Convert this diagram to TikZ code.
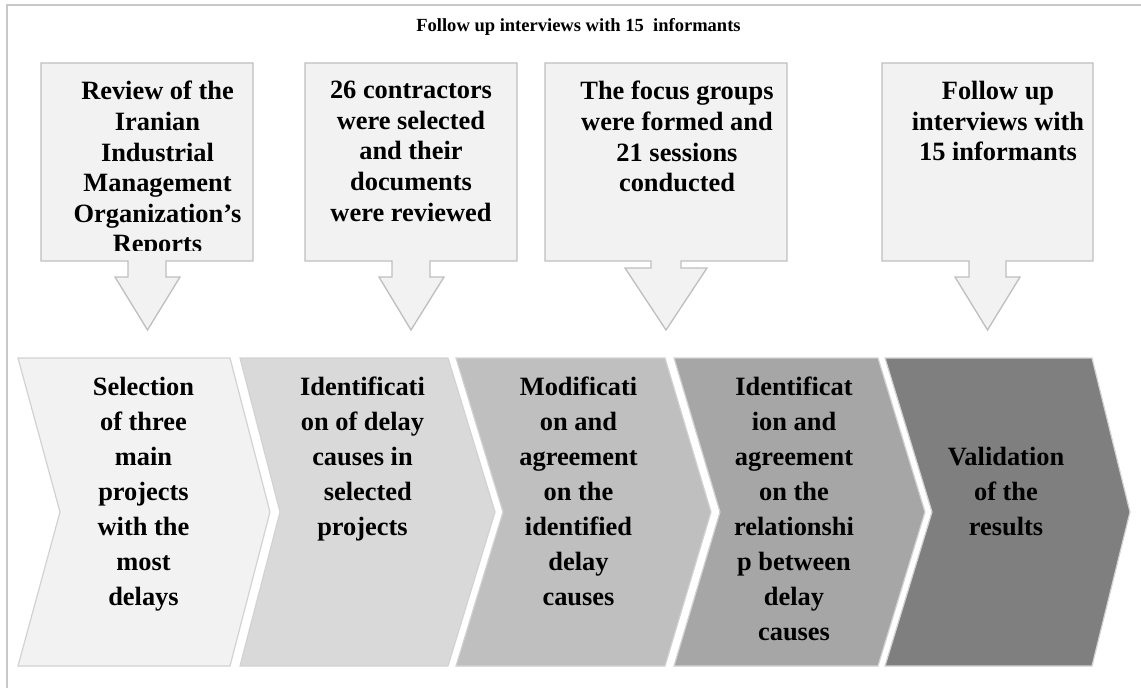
\documentclass[tikz,border=0pt]{standalone}
\usepackage{fontspec}
\setmainfont{Liberation Serif}
\definecolor{edge}{HTML}{BFBFBF}
\definecolor{c1}{HTML}{F2F2F2}
\definecolor{c2}{HTML}{D9D9D9}
\definecolor{c3}{HTML}{BFBFBF}
\definecolor{c4}{HTML}{A6A6A6}
\definecolor{c5}{HTML}{7F7F7F}
\definecolor{frame}{HTML}{C8C8C8}
\tikzset{
  calloutshape/.style={draw=edge, fill=c1, line width=1pt, line join=miter},
  chevshape/.style={draw=edge!70!white, line width=0.9pt, line join=miter},
  boxtext/.style={font=\bfseries\fontsize{19.8pt}{22.95pt}\selectfont, align=center, inner sep=0pt, anchor=north},
  chevtext/.style={font=\bfseries\fontsize{19.8pt}{26.25pt}\selectfont, align=center, inner sep=0pt, anchor=north},
  titletext/.style={font=\bfseries\fontsize{13.9pt}{16pt}\selectfont, inner sep=0pt, anchor=base}
}
\begin{document}
\begin{tikzpicture}[x=0.75pt, y=-0.75pt]
\useasboundingbox (0,0) rectangle (1141,688);
% outer frame (left and top edges visible)
\draw[frame, line width=1.2pt] (7,688) -- (7,5) -- (1141,5);
% title
\node[titletext] (title) at (578.5,32) {Follow up interviews with 15\ \ informants};
% callouts
\draw[calloutshape] (41,63) -- (253,63) -- (253,261) -- (166,261) -- (166,277) -- (180,277) -- (147.5,330) -- (115,277) -- (128,277) -- (128,261) -- (41,261) -- cycle;
\draw[calloutshape] (305,63) -- (517,63) -- (517,261) -- (430,261) -- (430,277) -- (444,277) -- (411,330) -- (379,277) -- (392,277) -- (392,261) -- (305,261) -- cycle;
\draw[calloutshape] (545,63) -- (787,63) -- (787,261) -- (681,261) -- (681,268) -- (707,268) -- (666,330) -- (625,268) -- (651,268) -- (651,261) -- (545,261) -- cycle;
\draw[calloutshape] (882,63) -- (1093,63) -- (1093,261) -- (1006,261) -- (1006,277) -- (1020,277) -- (987.5,330) -- (955,277) -- (969,277) -- (969,261) -- (882,261) -- cycle;
\begin{scope}
\clip (0,0) rectangle (1141,250);
\node[boxtext] (k1) at (157.5,81) {Review of the\\Iranian\\Industrial\\Management\\Organization’s\\Reports};
\end{scope}
\node[boxtext] (k2) at (411,81) {26 contractors\\were selected\\and their\\documents\\were reviewed};
\node[boxtext] (k3) at (677,81) {The focus groups\\were formed and\\21 sessions\\conducted};
\node[boxtext] (k4) at (998,81) {Follow up\\interviews with\\15 informants};
% chevrons
\draw[chevshape, fill=c1] (18,358) -- (230,358) -- (270,512) -- (230,666) -- (18,666) -- (60,512) -- cycle;
\draw[chevshape, fill=c2] (240,358) -- (448,358) -- (495,512) -- (448,666) -- (240,666) -- (280,512) -- cycle;
\draw[chevshape, fill=c3] (456,358) -- (665,358) -- (711,512) -- (665,666) -- (456,666) -- (503,512) -- cycle;
\draw[chevshape, fill=c4] (674,358) -- (878,358) -- (925,512) -- (878,666) -- (674,666) -- (720,512) -- cycle;
\draw[chevshape, fill=c5] (885,358) -- (1092,358) -- (1130,512) -- (1092,666) -- (885,666) -- (932,512) -- cycle;
\node[chevtext] (s1) at (143.5,377) {Selection\\of three\\main\\projects\\with the\\most\\delays};
\node[chevtext] (s2) at (362.5,377) {Identificati\\on of delay\\causes in\\\hspace{0.4em}selected\\projects};
\node[chevtext] (s3) at (578.5,377) {Modificati\\on and\\agreement\\on the\\identified\\delay\\causes};
\node[chevtext] (s4) at (794,377) {Identificat\\ion and\\agreement\\on the\\relationshi\\p between\\delay\\causes};
\node[chevtext] (s5) at (1006,447) {Validation\\of the\\results};
\end{tikzpicture}
\end{document}
